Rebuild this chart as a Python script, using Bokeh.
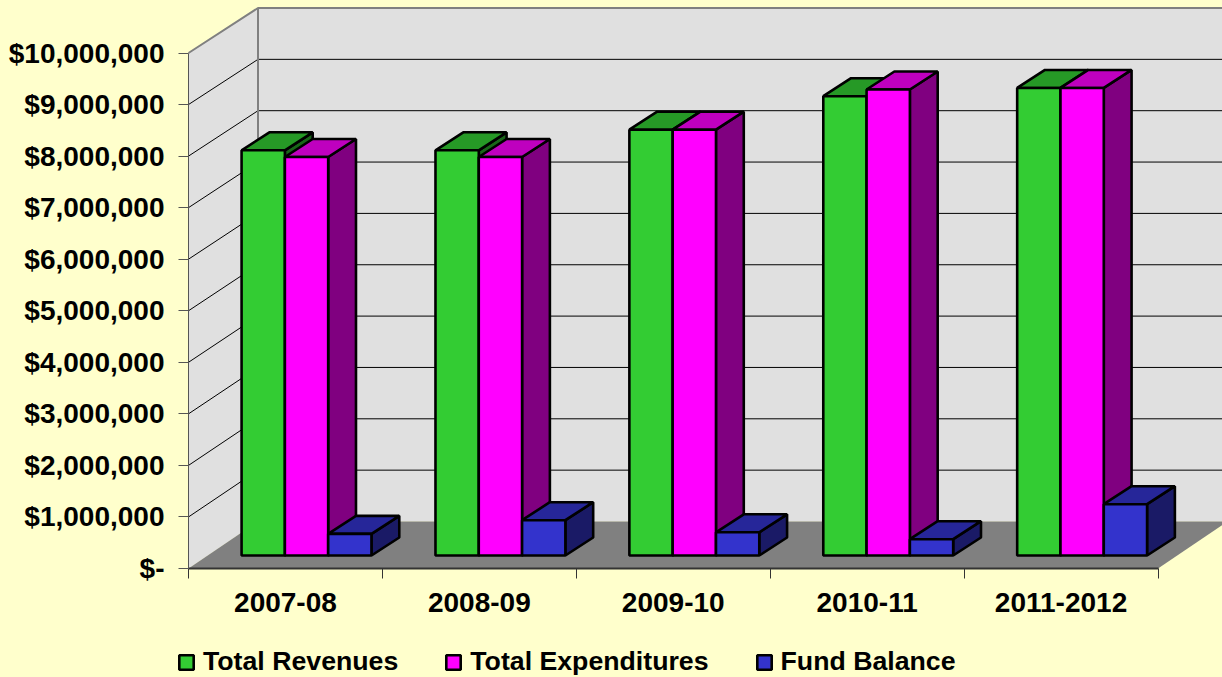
from bokeh.plotting import figure
from bokeh.embed import file_html
from bokeh.resources import INLINE
from bokeh.models import Range1d, FixedTicker, LinearAxis, Legend, LegendItem, ColumnDataSource

categories = ["2007-08", "2008-09", "2009-10", "2010-11", "2011-2012"]
total_revenues = [7860000, 7860000, 8260000, 8910000, 9070000]
total_expenditures = [7730000, 7730000, 8260000, 9040000, 9070000]
fund_balance = [420000, 685000, 450000, 316000, 995000]
y_ticks = list(range(0, 10000001, 1000000))
series = [
    ("Total Revenues", total_revenues, "#33CC33", "#269926", "#196619"),
    ("Total Expenditures", total_expenditures, "#FF00FF", "#BF00BF", "#800080"),
    ("Fund Balance", fund_balance, "#3333CC", "#262699", "#1A1A66"),
]

BG = "#FFFFCC"
W, H = 1222, 677
LEFT, FLOOR_Y = 188, 568
PX_X = 193.9          # pixels per category
PX_Y = 51.55 / 1e6    # pixels per dollar
DEPTH_X = 69.5 / PX_X  # oblique shift of the full chart depth, categories
DEPTH_Y = 45 / PX_Y    # oblique shift of the full chart depth, dollars
BACK_SAG = 2 / PX_Y    # back plane is slightly shorter than the front plane
N = len(categories)
MAX = y_ticks[-1]


def proj(x, y, d):
    """Oblique projection; the back plane (d == 1) is slightly compressed."""
    extra = BACK_SAG * (MAX - y) / MAX if d == 1 else 0
    return x + d * DEPTH_X, y + d * DEPTH_Y + extra


def face(points):
    pts = [proj(*pt) for pt in points]
    return [a for a, _ in pts], [b for _, b in pts]


p = figure(width=W, height=H, output_backend="svg", toolbar_location=None,
           x_range=Range1d(-LEFT / PX_X, (W - LEFT) / PX_X),
           y_range=Range1d(-(H - FLOOR_Y) / PX_Y, FLOOR_Y / PX_Y),
           min_border=0, x_axis_type=None, y_axis_type=None,
           background_fill_color=BG, border_fill_color=BG, outline_line_color=None)
p.grid.visible = False

# walls and floor
wx, wy = face([(0, 0, 1), (N, 0, 1), (N, MAX, 1), (0, MAX, 1)])
p.patch(wx, wy, fill_color="#E0E0E0", line_color=None)
wx, wy = face([(0, 0, 0), (0, 0, 1), (0, MAX, 1), (0, MAX, 0)])
p.patch(wx, wy, fill_color="#E0E0E0", line_color=None)
wx, wy = face([(0, 0, 0), (N, 0, 0), (N, 0, 1), (0, 0, 1)])
p.patch(wx, wy, fill_color="#808080", line_color=None)

# gridlines
for v in y_ticks[1:-1]:
    gx, gy = face([(0, v, 0), (0, v, 1), (N, v, 1)])
    p.line(gx, gy, line_color="#000000", line_width=1)

# wall edges
gx, gy = face([(0, MAX, 0), (0, MAX, 1), (N, MAX, 1)])
p.line(gx, gy, line_color="#808080", line_width=2)
gx, gy = face([(0, 0, 1), (0, MAX, 1)])
p.line(gx, gy, line_color="#808080", line_width=2)

# bars
BAR_W = 43.3 / PX_X
BAR_PAD = 33 / PX_X
D0, D1 = 13 / 45, 31 / 45
LW = 2.6
items = []
for i in range(N):
    for s, (name, vals, front, top, side) in enumerate(series):
        x0 = i + BAR_PAD + s * BAR_W
        x1 = x0 + BAR_W
        v = vals[i]
        fx, fy = face([(x1, 0, D0), (x1, 0, D1), (x1, v, D1), (x1, v, D0)])
        p.patch(fx, fy, fill_color=side, line_color="#000000", line_width=LW)
        fx, fy = face([(x0, v, D0), (x1, v, D0), (x1, v, D1), (x0, v, D1)])
        p.patch(fx, fy, fill_color=top, line_color="#000000", line_width=LW)

for s, (name, vals, front, top, side) in enumerate(series):
    lefts = [proj(i + BAR_PAD + s * BAR_W, 0, D0)[0] for i in range(N)]
    rights = [proj(i + BAR_PAD + (s + 1) * BAR_W, 0, D0)[0] for i in range(N)]
    bottoms = [proj(0, 0, D0)[1]] * N
    tops = [proj(0, v, D0)[1] for v in vals]
    src = ColumnDataSource(dict(left=lefts, right=rights, bottom=bottoms, top=tops))
    r = p.quad(left="left", right="right", bottom="bottom", top="top", source=src,
               fill_color=front, line_color="#000000", line_width=LW)
    items.append(LegendItem(label=name, renderers=[r]))

# axes
FONT = "Liberation Sans"
yax = LinearAxis(ticker=FixedTicker(ticks=y_ticks), bounds=(0, MAX), fixed_location=0,
                 major_label_overrides={v: ("$-" if v == 0 else f"${v:,}") for v in y_ticks},
                 major_label_text_font=FONT, major_label_text_font_style="bold",
                 major_label_text_font_size="28px", major_label_text_color="#000000",
                 major_tick_out=10, major_tick_in=0, minor_tick_line_color=None,
                 major_tick_line_color="#555555", axis_line_color="#555555",
                 major_label_standoff=14)
p.add_layout(yax, "left")
xax = LinearAxis(ticker=FixedTicker(ticks=[i + 0.5 for i in range(N)],
                                    minor_ticks=list(range(N + 1))),
                 bounds=(0, N), fixed_location=0,
                 major_label_overrides={i + 0.5: c for i, c in enumerate(categories)},
                 major_label_text_font=FONT, major_label_text_font_style="bold",
                 major_label_text_font_size="28px", major_label_text_color="#000000",
                 major_tick_line_color=None, major_tick_out=0, major_tick_in=0,
                 minor_tick_out=10, minor_tick_in=0, minor_tick_line_color="#333333",
                 axis_line_color="#333333", axis_line_width=2, major_label_standoff=14)
p.add_layout(xax, "below")

legend = Legend(items=items, orientation="horizontal", location=(177, 0),
                background_fill_alpha=0, border_line_color=None,
                glyph_width=18, glyph_height=18, label_standoff=8, spacing=46,
                padding=0, margin=0, label_text_font=FONT, label_text_font_style="bold",
                label_text_font_size="26.7px", label_text_color="#000000")
p.add_layout(legend, "center")

html = file_html(p, INLINE)
html = html.replace("<head>", "<head><style>html,body{margin:0;padding:0;overflow:hidden;background:%s}</style>" % BG, 1)
open("out.html", "w").write(html)
